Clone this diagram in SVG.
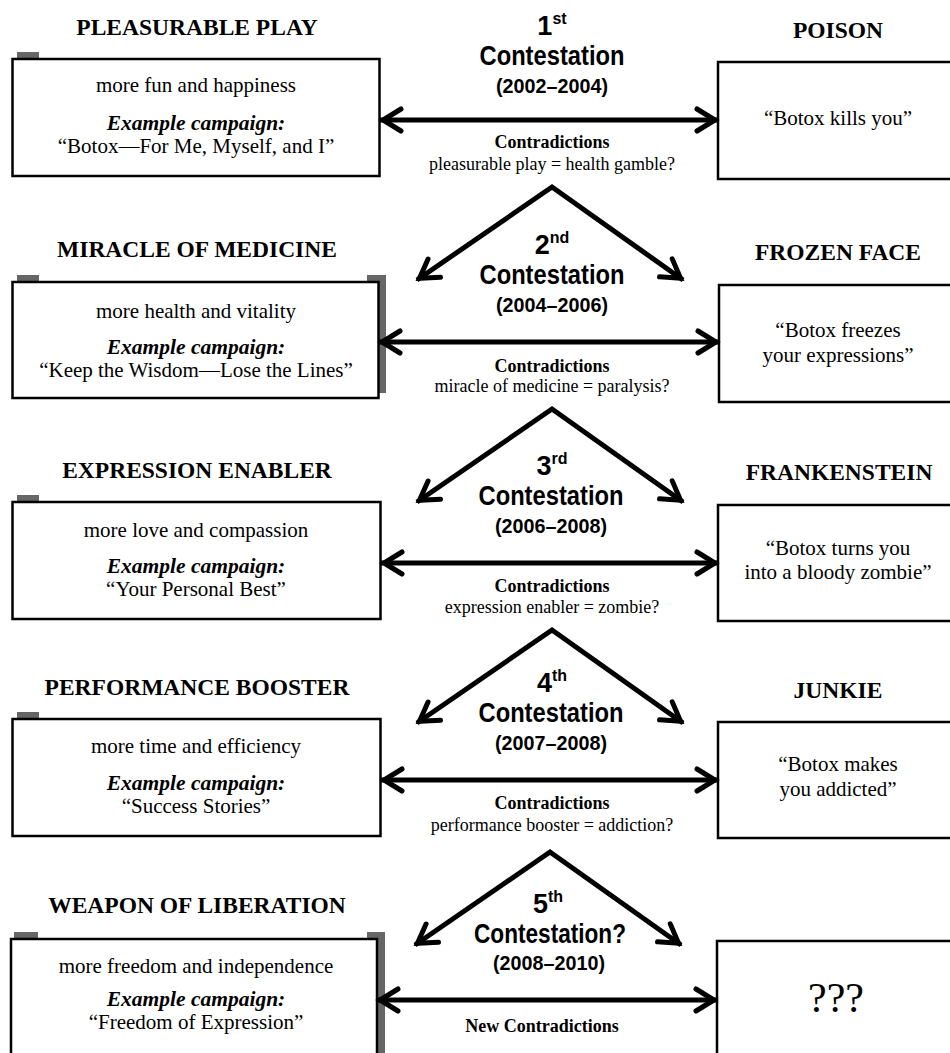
<svg xmlns="http://www.w3.org/2000/svg" width="950" height="1053" viewBox="0 0 950 1053">
<defs>
<style>
.bg{fill:#fff}
.box{fill:#fff;stroke:#000;stroke-width:2.5}
.tab{fill:#666}
.title{font-family:"Liberation Serif","Times New Roman",serif;font-weight:bold;font-size:23.5px;text-anchor:middle;fill:#000}
.body{font-family:"Liberation Serif","Times New Roman",serif;font-size:21px;text-anchor:middle;fill:#000}
.ex{font-family:"Liberation Serif","Times New Roman",serif;font-size:21.5px;font-weight:bold;font-style:italic;text-anchor:middle;fill:#000}
.num{font-family:"Liberation Sans",Arial,sans-serif;font-weight:bold;font-size:27px;text-anchor:middle;fill:#000}
.sup{font-size:16px}
.cont{font-family:"Liberation Sans",Arial,sans-serif;font-weight:bold;font-size:27px;text-anchor:middle;fill:#000}
.yrs{font-family:"Liberation Sans",Arial,sans-serif;font-weight:bold;font-size:19.5px;text-anchor:middle;fill:#000}
.ctr{font-family:"Liberation Serif","Times New Roman",serif;font-weight:bold;font-size:18px;text-anchor:middle;fill:#000}
.ctl{font-family:"Liberation Serif","Times New Roman",serif;font-size:18px;text-anchor:middle;fill:#000}
.q{font-family:"Liberation Serif","Times New Roman",serif;font-size:42px;text-anchor:middle;fill:#000}
.arr{fill:none;stroke:#000;stroke-width:5;stroke-linejoin:miter;stroke-miterlimit:10}
</style>
<marker id="head" markerUnits="userSpaceOnUse" markerWidth="30" markerHeight="30" refX="25" refY="13" orient="auto-start-reverse" overflow="visible">
<path d="M 4 2 L 22 13 L 4 24" fill="none" stroke="#000" stroke-width="5" stroke-linecap="round" stroke-linejoin="miter"/>
</marker>
</defs>
<rect class="bg" x="0" y="0" width="950" height="1053"/>

<!-- Row 1 -->
<g id="left1">
<text class="title" x="197" y="35">PLEASURABLE PLAY</text>
<rect class="tab" x="17" y="52" width="22" height="8"/>
<rect class="box" x="12.5" y="59" width="367" height="117"/>
<text class="body" x="196" y="92">more fun and happiness</text>
<text class="ex" x="196" y="130">Example campaign:</text>
<text class="body" x="196" y="153">“Botox—For Me, Myself, and I”</text>
</g>
<g id="right1">
<text class="title" x="838" y="38">POISON</text>
<rect class="box" x="718" y="62" width="236" height="117"/>
<text class="body" x="838" y="125">“Botox kills you”</text>
</g>
<g id="contest1">
<text class="num" x="552" y="35">1<tspan class="sup" dy="-11">st</tspan></text>
<text class="cont" x="552" y="65" textLength="145" lengthAdjust="spacingAndGlyphs">Contestation</text>
<text class="yrs" x="552" y="93" textLength="112" lengthAdjust="spacingAndGlyphs">(2002–2004)</text>
<text class="ctr" x="552" y="148">Contradictions</text>
<text class="ctl" x="552" y="170">pleasurable play = health gamble?</text>
</g>

<!-- Row 2 -->
<g id="left2">
<text class="title" x="197" y="257">MIRACLE OF MEDICINE</text>
<rect class="tab" x="17" y="275" width="22" height="8"/>
<rect class="tab" x="367" y="275" width="19" height="118"/>
<rect class="box" x="12.5" y="282" width="366" height="116"/>
<text class="body" x="196" y="318">more health and vitality</text>
<text class="ex" x="196" y="354">Example campaign:</text>
<text class="body" x="196" y="377">“Keep the Wisdom—Lose the Lines”</text>
</g>
<g id="right2">
<text class="title" x="838" y="260">FROZEN FACE</text>
<rect class="box" x="719" y="285" width="236" height="117"/>
<text class="body" x="838" y="337">“Botox freezes</text>
<text class="body" x="838" y="362">your expressions”</text>
</g>
<g id="contest2">
<text class="num" x="552" y="254">2<tspan class="sup" dy="-11">nd</tspan></text>
<text class="cont" x="552" y="284" textLength="145" lengthAdjust="spacingAndGlyphs">Contestation</text>
<text class="yrs" x="552" y="312" textLength="112" lengthAdjust="spacingAndGlyphs">(2004–2006)</text>
<text class="ctr" x="552" y="372">Contradictions</text>
<text class="ctl" x="552" y="392">miracle of medicine = paralysis?</text>
</g>

<!-- Row 3 -->
<g id="left3">
<text class="title" x="197" y="478">EXPRESSION ENABLER</text>
<rect class="tab" x="17" y="495" width="22" height="8"/>
<rect class="box" x="12.5" y="502" width="368" height="117"/>
<text class="body" x="196" y="537">more love and compassion</text>
<text class="ex" x="196" y="573">Example campaign:</text>
<text class="body" x="196" y="596">“Your Personal Best”</text>
</g>
<g id="right3">
<text class="title" x="839" y="480">FRANKENSTEIN</text>
<rect class="box" x="718" y="505" width="236" height="116"/>
<text class="body" x="838" y="555">“Botox turns you</text>
<text class="body" x="838" y="579">into a bloody zombie”</text>
</g>
<g id="contest3">
<text class="num" x="552" y="475">3<tspan class="sup" dy="-11">rd</tspan></text>
<text class="cont" x="551" y="505" textLength="145" lengthAdjust="spacingAndGlyphs">Contestation</text>
<text class="yrs" x="551" y="533" textLength="112" lengthAdjust="spacingAndGlyphs">(2006–2008)</text>
<text class="ctr" x="552" y="592">Contradictions</text>
<text class="ctl" x="552" y="613">expression enabler = zombie?</text>
</g>

<!-- Row 4 -->
<g id="left4">
<text class="title" x="197" y="695">PERFORMANCE BOOSTER</text>
<rect class="tab" x="17" y="712" width="22" height="8"/>
<rect class="box" x="12.5" y="719" width="368" height="117"/>
<text class="body" x="196" y="753">more time and efficiency</text>
<text class="ex" x="196" y="790">Example campaign:</text>
<text class="body" x="196" y="813">“Success Stories”</text>
</g>
<g id="right4">
<text class="title" x="838" y="698">JUNKIE</text>
<rect class="box" x="718" y="722" width="236" height="116"/>
<text class="body" x="838" y="771">“Botox makes</text>
<text class="body" x="838" y="796">you addicted”</text>
</g>
<g id="contest4">
<text class="num" x="552" y="692">4<tspan class="sup" dy="-11">th</tspan></text>
<text class="cont" x="551" y="722" textLength="145" lengthAdjust="spacingAndGlyphs">Contestation</text>
<text class="yrs" x="551" y="750" textLength="112" lengthAdjust="spacingAndGlyphs">(2007–2008)</text>
<text class="ctr" x="552" y="809">Contradictions</text>
<text class="ctl" x="552" y="831">performance booster = addiction?</text>
</g>

<!-- Row 5 -->
<g id="left5">
<text class="title" x="197" y="913">WEAPON OF LIBERATION</text>
<rect class="tab" x="14" y="932" width="24" height="8"/>
<rect class="tab" x="367" y="932" width="18" height="130"/>
<rect class="box" x="11" y="939" width="366" height="130"/>
<text class="body" x="196" y="973">more freedom and independence</text>
<text class="ex" x="196" y="1006">Example campaign:</text>
<text class="body" x="196" y="1029">“Freedom of Expression”</text>
</g>
<g id="right5">
<rect class="box" x="717" y="941" width="240" height="130"/>
<text class="q" x="836" y="1012">???</text>
</g>
<g id="contest5">
<text class="num" x="548" y="913">5<tspan class="sup" dy="-11">th</tspan></text>
<text class="cont" x="550" y="943" textLength="152" lengthAdjust="spacingAndGlyphs">Contestation?</text>
<text class="yrs" x="549" y="970" textLength="112" lengthAdjust="spacingAndGlyphs">(2008–2010)</text>
<text class="ctr" x="542" y="1032">New Contradictions</text>
</g>

<!-- Connectors -->
<g id="connectors">
<line class="arr" x1="380" y1="120" x2="718" y2="120" marker-start="url(#head)" marker-end="url(#head)"/>
<path class="arr" d="M 417 280 L 552 187 L 683 280" marker-start="url(#head)" marker-end="url(#head)"/>
<line class="arr" x1="379" y1="342" x2="719" y2="342" marker-start="url(#head)" marker-end="url(#head)"/>
<path class="arr" d="M 417 502 L 552 409 L 683 502" marker-start="url(#head)" marker-end="url(#head)"/>
<line class="arr" x1="381" y1="563" x2="718" y2="563" marker-start="url(#head)" marker-end="url(#head)"/>
<path class="arr" d="M 417 723 L 552 630 L 683 723" marker-start="url(#head)" marker-end="url(#head)"/>
<line class="arr" x1="381" y1="780" x2="718" y2="780" marker-start="url(#head)" marker-end="url(#head)"/>
<path class="arr" d="M 415 945 L 550 852 L 681 945" marker-start="url(#head)" marker-end="url(#head)"/>
<line class="arr" x1="377" y1="1000" x2="717" y2="1000" marker-start="url(#head)" marker-end="url(#head)"/>
</g>
</svg>
